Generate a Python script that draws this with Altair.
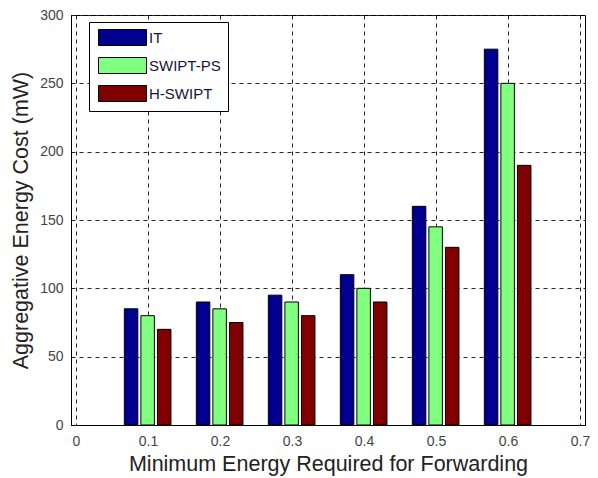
import altair as alt
import pandas as pd

# Minimum energy required for forwarding (x positions of the bar groups)
energy = [0.1, 0.2, 0.3, 0.4, 0.5, 0.6]
series = ["IT", "SWIPT-PS", "H-SWIPT"]

# Aggregative energy cost in mW for each scheme
cost_it = [85, 90, 95, 110, 160, 275]
cost_swipt_ps = [80, 85, 90, 100, 145, 250]
cost_h_swipt = [70, 75, 80, 90, 130, 190]

colors = ["#000090", "#80FF80", "#800000"]

rows = []
for name, vals in zip(series, [cost_it, cost_swipt_ps, cost_h_swipt]):
    for e, v in zip(energy, vals):
        rows.append({"energy": e, "scheme": name, "cost": v})
df = pd.DataFrame(rows)

# Side-by-side grouping: shift each scheme around the group centre
shift = "datum.scheme == 'IT' ? -0.0235 : (datum.scheme == 'H-SWIPT' ? 0.0225 : -0.0005)"

font = "Liberation Sans"

bars = (
    alt.Chart(df)
    .transform_calculate(xpos=f"datum.energy + ({shift})")
    .mark_bar(size=13.5, stroke="black", strokeWidth=1)
    .encode(
        x=alt.X(
            "xpos:Q",
            scale=alt.Scale(domain=[0, 0.7], nice=False, zero=True),
            axis=alt.Axis(
                title="Minimum Energy Required for Forwarding",
                values=[0, 0.1, 0.2, 0.3, 0.4, 0.5, 0.6, 0.7],
                labelExpr="datum.value == 0 ? '0' : format(datum.value, '.1f')",
            ),
        ),
        y=alt.Y(
            "cost:Q",
            scale=alt.Scale(domain=[0, 300], nice=False),
            axis=alt.Axis(
                title="Aggregative Energy Cost (mW)",
                values=[0, 50, 100, 150, 200, 250, 300],
            ),
        ),
        color=alt.Color(
            "scheme:N",
            scale=alt.Scale(domain=series, range=colors),
            sort=series,
            legend=alt.Legend(
                title=None,
                orient="none",
                legendX=18,
                legendY=7,
                symbolType="M-3,-1L3,-1L3,1L-3,1Z",
                symbolSize=256,
                symbolStrokeColor="black",
                symbolStrokeWidth=1,
                symbolOpacity=1,
                symbolOffset=18,
                labelOffset=18,
                labelFont=font,
                labelFontSize=15,
                labelColor="#15153a",
                rowPadding=7,
                padding=7,
                strokeColor="black",
                fillColor="white",
                cornerRadius=0,
            ),
        ),
    )
)

chart = (
    bars.properties(
        width=514,
        height=410,
        autosize=alt.AutoSizeParams(type="none"),
        padding={"left": 71, "top": 15, "right": 13, "bottom": 53},
    )
    .configure_view(stroke="black", strokeWidth=1)
    .configure_axis(
        grid=True,
        gridColor="#222222",
        gridDash=[4, 4],
        gridWidth=1,
        gridOpacity=1,
        domainColor="black",
        domainWidth=1,
        ticks=False,
        labelFont=font,
        labelFontSize=14,
        labelColor="#444444",
        titleFont=font,
        titleFontSize=21.5,
        titleFontWeight="normal",
        titleColor="#222222",
    )
    .configure_axisX(labelPadding=9, titlePadding=5)
    .configure_axisY(labelPadding=8, titlePadding=7)
)

chart.save("out.html", embed_options={"renderer": "svg", "actions": False})
